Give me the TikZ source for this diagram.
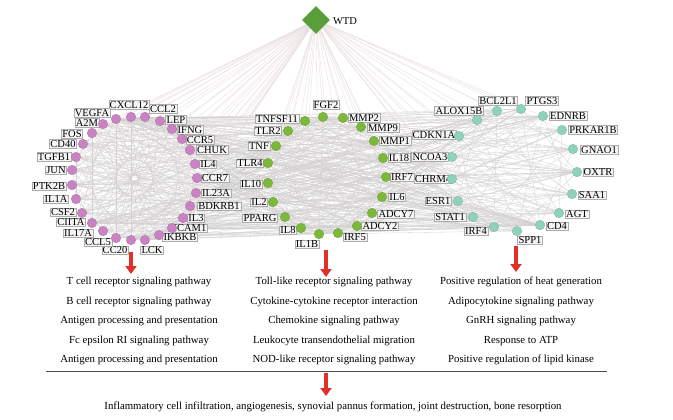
\documentclass[tikz,border=0pt]{standalone}
\usepackage{fontspec}
\setmainfont{Liberation Serif}
\usetikzlibrary{shapes.geometric,arrows.meta}
\pgfdeclarelayer{bg}
\pgfsetlayers{bg,main}
\definecolor{pinkc}{HTML}{C983C3}
\definecolor{greenc}{HTML}{7BB83C}
\definecolor{tealc}{HTML}{8ED1BC}
\definecolor{wtdc}{HTML}{5A9E3A}
\definecolor{arrowred}{HTML}{E0302A}
\definecolor{edgec}{HTML}{D3D0D0}
\definecolor{wtdedgec}{HTML}{E9DEDE}
\tikzset{
 gene/.style={circle,minimum size=9.6pt,inner sep=0pt,line width=0.3pt},
 gA/.style={gene,fill=pinkc,draw=pinkc!85!black},
 gB/.style={gene,fill=greenc,draw=greenc!85!black},
 gC/.style={gene,fill=tealc,draw=tealc!85!black},
 lab/.style={draw=gray!65,fill=gray!8,line width=0.4pt,inner xsep=1pt,inner ysep=0.8pt,text height=7pt,text depth=0pt,font=\fontsize{10.5}{12}\selectfont},
 net/.style={draw=edgec,line width=0.3pt},
 wtdedge/.style={draw=wtdedgec,line width=0.35pt},
 pathtxt/.style={font=\fontsize{10.8}{13}\selectfont,inner sep=0pt},
 redarrow/.style={draw=arrowred,line width=3.6pt,-{Triangle[width=11pt,length=8pt]}},
}
\newcommand\mkgene[7]{\node[lab] (L#1) at (#5,#6) {#1}; \node[#7,alias=#2] (#1) at (#3,#4) {};}
\begin{document}
\begin{tikzpicture}[x=1pt,y=-1pt]
\useasboundingbox (0,0) rectangle (673,420);
% left cluster
\mkgene{CXCL12}{A1}{131}{117}{129}{105}{gA}
\mkgene{CCL2}{A2}{145}{117}{163}{109}{gA}
\mkgene{LEP}{A3}{160}{121}{176}{120}{gA}
\mkgene{IFNG}{A4}{172}{129}{190}{130}{gA}
\mkgene{CCR5}{A5}{182}{139}{200}{140}{gA}
\mkgene{CHUK}{A6}{190}{150}{212}{150}{gA}
\mkgene{IL4}{A7}{195}{164}{208}{164}{gA}
\mkgene{CCR7}{A8}{197}{178}{215}{178}{gA}
\mkgene{IL23A}{A9}{196}{193}{216}{193}{gA}
\mkgene{BDKRB1}{A10}{190}{206}{219}{206}{gA}
\mkgene{IL3}{A11}{183}{218}{196}{218}{gA}
\mkgene{ICAM1}{A12}{172}{228}{190}{228}{gA}
\mkgene{IKBKB}{A13}{159}{235}{180}{237}{gA}
\mkgene{LCK}{A14}{145}{240}{152}{250}{gA}
\mkgene{CC20}{A15}{131}{240}{115}{250}{gA}
\mkgene{CCL5}{A16}{116}{238}{98}{242}{gA}
\mkgene{IL17A}{A17}{103}{231}{78}{233}{gA}
\mkgene{CIITA}{A18}{92}{223}{71}{222}{gA}
\mkgene{CSF2}{A19}{82}{213}{63}{212}{gA}
\mkgene{IL1A}{A20}{76}{199}{56}{199}{gA}
\mkgene{PTK2B}{A21}{72}{185}{49}{186}{gA}
\mkgene{JUN}{A22}{72}{170}{56}{170}{gA}
\mkgene{TGFB1}{A23}{76}{157}{54}{157}{gA}
\mkgene{CD40}{A24}{83}{144}{63}{144}{gA}
\mkgene{FOS}{A25}{92}{133}{72}{134}{gA}
\mkgene{A2M}{A26}{103}{124}{87}{123}{gA}
\mkgene{VEGFA}{A27}{116}{119}{92}{113}{gA}
% middle cluster
\mkgene{FGF2}{B1}{323}{117}{326}{105}{gB}
\mkgene{MMP2}{B2}{343}{118}{364}{118}{gB}
\mkgene{MMP9}{B3}{361}{127}{383}{128}{gB}
\mkgene{MMP1}{B4}{374}{141}{395}{141}{gB}
\mkgene{IL18}{B5}{383}{158}{399}{158}{gB}
\mkgene{IRF7}{B6}{386}{177}{402}{177}{gB}
\mkgene{IL6}{B7}{382}{197}{397}{197}{gB}
\mkgene{ADCY7}{B8}{372}{213}{396}{214}{gB}
\mkgene{ADCY2}{B9}{357}{226}{380}{226}{gB}
\mkgene{IRF5}{B10}{338}{233}{355}{237}{gB}
\mkgene{IL1B}{B11}{319}{234}{307}{244}{gB}
\mkgene{IL8}{B12}{301}{228}{288}{230}{gB}
\mkgene{PPARG}{B13}{285}{217}{260}{218}{gB}
\mkgene{IL2}{B14}{273}{202}{259}{202}{gB}
\mkgene{IL10}{B15}{268}{183}{251}{184}{gB}
\mkgene{TLR4}{B16}{268}{163}{250}{163}{gB}
\mkgene{TNF}{B17}{276}{146}{259}{146}{gB}
\mkgene{TLR2}{B18}{288}{131}{268}{131}{gB}
\mkgene{TNFSF11}{B19}{305}{121}{277}{119}{gB}
% right cluster
\mkgene{BCL2L1}{C1}{497}{111}{498}{101}{gC}
\mkgene{PTGS3}{C2}{521}{109}{542}{101}{gC}
\mkgene{EDNRB}{C3}{543}{116}{568}{116}{gC}
\mkgene{PRKAR1B}{C4}{562}{130}{593}{130}{gC}
\mkgene{GNAO1}{C5}{573}{149}{599}{150}{gC}
\mkgene{OXTR}{C6}{577}{172}{598}{172}{gC}
\mkgene{SAA1}{C7}{572}{194}{592}{195}{gC}
\mkgene{AGT}{C8}{559}{213}{577}{214}{gC}
\mkgene{CD4}{C9}{540}{225}{557}{226}{gC}
\mkgene{SPP1}{C10}{517}{231}{530}{240}{gC}
\mkgene{IRF4}{C11}{494}{227}{476}{231}{gC}
\mkgene{STAT1}{C12}{473}{217}{450}{217}{gC}
\mkgene{ESR1}{C13}{458}{201}{438}{201}{gC}
\mkgene{CHRM4}{C14}{452}{179}{433}{179}{gC}
\mkgene{NCOA3}{C15}{452}{157}{430}{157}{gC}
\mkgene{CDKN1A}{C16}{459}{136}{434}{135}{gC}
\mkgene{ALOX15B}{C17}{477}{120}{459}{111}{gC}
% WTD
\node[diamond,fill=wtdc,minimum width=28pt,minimum height=28pt,inner sep=0pt] (WTD) at (316,20) {};
\node[font=\fontsize{10.5}{12}\selectfont,inner sep=0pt] (WTDlab) at (345,21) {WTD};
% edges
\begin{pgfonlayer}{bg}
\fill[white] (0,0) rectangle (673,420);
\foreach \i in {1,...,27}{\foreach \k in {3,7,11,13}{\pgfmathtruncatemacro\j{mod(\i+\k-1,27)+1}\draw[net] (A\i)--(A\j);}}
\foreach \i in {1,...,19}{\foreach \k in {3,6,9}{\pgfmathtruncatemacro\j{mod(\i+\k-1,19)+1}\draw[net] (B\i)--(B\j);}}
\foreach \i in {1,...,17}{\foreach \k in {4,7}{\pgfmathtruncatemacro\j{mod(\i+\k-1,17)+1}\draw[net] (C\i)--(C\j);}}
\foreach \i in {1,...,27}{\foreach \k in {1,...,19}{\pgfmathtruncatemacro\r{mod(\i+2*\k,3)}\ifnum\r=0 \draw[net] (A\i)--(B\k);\fi}}
\foreach \i in {1,...,19}{\foreach \k in {1,...,17}{\pgfmathtruncatemacro\r{mod(\i+\k,3)}\ifnum\r=0 \draw[net] (B\i)--(C\k);\fi}}
\foreach \i in {1,...,27}{\foreach \k in {1,...,17}{\pgfmathtruncatemacro\r{mod(\i*\k,9)}\ifnum\r=0 \draw[net] (A\i)--(C\k);\fi}}
\foreach \i in {1,...,27}{\draw[wtdedge] (WTD)--(A\i);}
\foreach \i in {1,...,19}{\draw[wtdedge] (WTD)--(B\i);}
\foreach \i in {1,...,17}{\draw[wtdedge] (WTD)--(C\i);}
\end{pgfonlayer}
% pathway texts
\node[pathtxt] (p11) at (139,282) {T cell receptor signaling pathway};
\node[pathtxt] (p12) at (139,302) {B cell receptor signaling pathway};
\node[pathtxt] (p13) at (139,321) {Antigen processing and presentation};
\node[pathtxt] (p14) at (139,341) {Fc epsilon RI signaling pathway};
\node[pathtxt] (p15) at (139,360) {Antigen processing and presentation};
\node[pathtxt] (p21) at (334,282) {Toll-like receptor signaling pathway};
\node[pathtxt] (p22) at (334,302) {Cytokine-cytokine receptor interaction};
\node[pathtxt] (p23) at (334,321) {Chemokine signaling pathway};
\node[pathtxt] (p24) at (334,341) {Leukocyte transendothelial migration};
\node[pathtxt] (p25) at (334,360) {NOD-like receptor signaling pathway};
\node[pathtxt] (p31) at (521,282) {Positive regulation of heat generation};
\node[pathtxt] (p32) at (521,302) {Adipocytokine signaling pathway};
\node[pathtxt] (p33) at (521,321) {GnRH signaling pathway};
\node[pathtxt] (p34) at (521,341) {Response to ATP};
\node[pathtxt] (p35) at (521,360) {Positive regulation of lipid kinase};
\node[pathtxt] (final) at (333,407) {Inflammatory cell infiltration, angiogenesis, synovial pannus formation, joint destruction, bone resorption};
% separator line
\coordinate (sepL) at (46,371);
\coordinate (sepR) at (607,371);
\draw[draw=black!70,line width=1pt] (sepL) -- (sepR);
% arrows
\coordinate (a1s) at (131,252); \coordinate (a1e) at (131,274);
\coordinate (a2s) at (326,250); \coordinate (a2e) at (326,277);
\coordinate (a3s) at (516,246); \coordinate (a3e) at (516,272);
\coordinate (a4s) at (326,373); \coordinate (a4e) at (326,396);
\draw[redarrow] (a1s) -- (a1e);
\draw[redarrow] (a2s) -- (a2e);
\draw[redarrow] (a3s) -- (a3e);
\draw[redarrow] (a4s) -- (a4e);
\end{tikzpicture}
\end{document}
